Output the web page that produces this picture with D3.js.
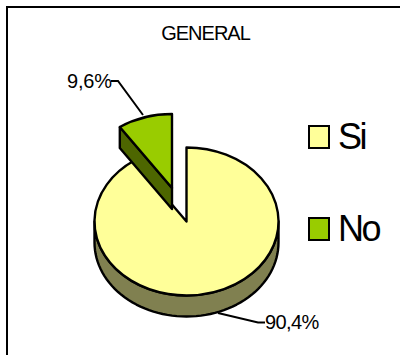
<!DOCTYPE html>
<html><head><meta charset="utf-8">
<script src="https://cdn.jsdelivr.net/npm/d3@7"></script>
<style>html,body{margin:0;padding:0;background:#fff}svg{display:block}text{font-family:"Liberation Sans",Arial,sans-serif;fill:#000}</style>
</head><body><svg id="c" width="400" height="355"></svg>
<script>
const title = "GENERAL";
const categories = ["Si", "No"];
const values = [90.4, 9.6];
const valueLabels = ["90,4%", "9,6%"];
const topColors = ["#ffff99", "#99cc00"];
const sideColors = ["#808050", "#4d6600"];

const svg = d3.select("#c");
const frame = d3.line();
svg.append("path").attr("d",frame([[7,355],[7,7],[400,7]])).attr("fill","none").attr("stroke","#000").attr("stroke-width",2);
svg.append("text").attr("x",205.5).attr("y",40).attr("text-anchor","middle")
  .attr("font-size",20).attr("letter-spacing",-1).text(title);

const rx = 92, ry = 74, depth = 21;
const yScale = ry / rx;
const pie = d3.pie().sort(null).value(d => d).startAngle(0).endAngle(2*Math.PI);
const arcs = pie(values);
const arc = d3.arc().innerRadius(0).outerRadius(rx);
const pt = (a, cx, cy) => [cx + rx*Math.sin(a), cy - ry*Math.cos(a)];
const line = d3.line();
function applyStroke(s){ return s.attr("stroke","#000").attr("stroke-width",2.4).attr("stroke-linejoin","round"); }

function drawTop(d,i,cx,cy){
  applyStroke(svg.append("path")
    .attr("transform",`translate(${cx},${cy}) scale(1,${yScale})`)
    .attr("d",arc(d)).attr("fill",topColors[i]).attr("vector-effect","non-scaling-stroke"));
}
const siC = [186.5, 221.5], noC = [172, 188];
const rimPts = d3.range(90, 271, 3).map(g => g*Math.PI/180);
const rimTop = rimPts.map(a => pt(a, siC[0], siC[1]));
const rimBottom = rimPts.map(a => pt(a, siC[0], siC[1]+depth)).reverse();
applyStroke(svg.append("path").attr("d", line(rimTop.concat(rimBottom))+"Z").attr("fill",sideColors[0]));
drawTop(arcs[0],0,siC[0],siC[1]);

const a0 = arcs[1].startAngle;
const p = pt(a0, noC[0], noC[1]);
const face = [p, [p[0],p[1]+depth], [noC[0],noC[1]+depth], noC];
applyStroke(svg.append("path").attr("d", line(face)+"Z").attr("fill",sideColors[1]));
drawTop(arcs[1],1,noC[0],noC[1]);

const leader = d3.line();
svg.append("path").attr("d",leader([[218,313],[258,322.5],[265,322.5]])).attr("fill","none").attr("stroke","#000").attr("stroke-width",2);
svg.append("path").attr("d",leader([[143,115],[118,81],[111,81]])).attr("fill","none").attr("stroke","#000").attr("stroke-width",2);
svg.append("text").attr("x",265).attr("y",329).attr("font-size",20).attr("letter-spacing",-0.6).text(valueLabels[0]);
svg.append("text").attr("x",67).attr("y",88).attr("font-size",20).attr("letter-spacing",-0.2).text(valueLabels[1]);

const legendY = d3.scalePoint().domain(categories).range([137,229]);
categories.forEach((c,i)=>{
  svg.append("rect").attr("x",309).attr("y",legendY(c)-11).attr("width",20).attr("height",22)
    .attr("fill",topColors[i]).attr("stroke","#000").attr("stroke-width",2);
  svg.append("text").attr("x",338).attr("y",legendY(c)+12.3).attr("font-size",36).attr("letter-spacing",-2.6).text(c);
});
</script></body></html>
